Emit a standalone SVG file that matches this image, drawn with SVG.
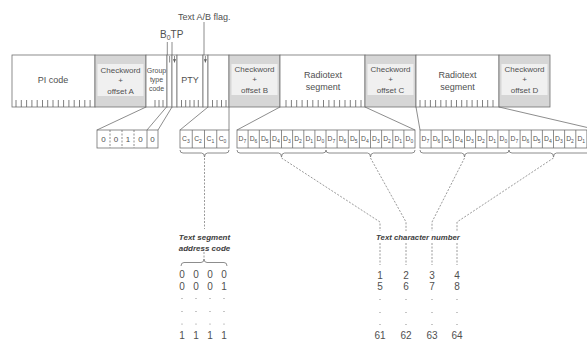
<svg xmlns="http://www.w3.org/2000/svg" width="587" height="342" viewBox="0 0 587 342">
<defs>
<style>
.bx{fill:#ffffff;stroke:#707070;stroke-width:0.8}
.cw{fill:#d6d6d6;stroke:#707070;stroke-width:0.8}
.cwi{fill:#f0f0f0;stroke:none}
.ln{fill:none;stroke:#707070;stroke-width:0.8}
.tk{fill:none;stroke:#606060;stroke-width:0.8}
.ds{fill:none;stroke:#808080;stroke-width:0.8;stroke-dasharray:2 1.5}
.dot{fill:#808080}
.t{font-family:"Liberation Sans",Arial,sans-serif;fill:#505050}
.c{text-anchor:middle}
.bi{font-weight:bold;font-style:italic;fill:#404040}
.s9{font-size:9px}
.s8{font-size:8px}
.s7{font-size:7px}
.d{font-size:6.8px}
.n{font-size:10px}
</style>
<marker id="ah" viewBox="0 0 6 6" refX="6" refY="3" markerWidth="4" markerHeight="4" orient="auto"><path d="M0,0 L6,3 L0,6 z" fill="#606060"/></marker>
</defs>
<rect width="587" height="342" fill="#ffffff"/>

<g id="pi-code">
<rect class="bx" x="12" y="55" width="83" height="52"/>
<path class="tk" d="M16,100V107M21.3,100V107M26.6,100V107M31.9,100V107M37.2,100V107M42.5,100V107M47.7,100V107M53,100V107M58.3,100V107M63.6,100V107M68.9,100V107M74.2,100V107M79.5,100V107M84.8,100V107M90.1,100V107"/>
<text class="t s9 c" x="53" y="83">PI code</text>
</g>

<g id="checkword-a">
<rect class="cw" x="95" y="55" width="51" height="52"/>
<rect class="cwi" x="97.5" y="64" width="46" height="32"/>
<text class="t s8 c" x="120.5" y="73">Checkword</text>
<text class="t s8 c" x="120.5" y="83">+</text>
<text class="t s8 c" x="120.5" y="93.5">offset A</text>
</g>

<g id="group-type-code">
<rect class="bx" x="146" y="55" width="21" height="52"/>
<path class="tk" d="M155,100V107M159,100V107M163,100V107"/>
<text class="t s7 c" x="156.5" y="73">Group</text>
<text class="t s7 c" x="156.5" y="82">type</text>
<text class="t s7 c" x="156.5" y="91">code</text>
</g>

<g id="b0-tp">
<rect class="bx" x="167" y="55" width="5" height="52"/>
<rect class="bx" x="172" y="55" width="5" height="52"/>
<path class="ln" d="M167.3,42V55M172,42V55"/>
<path class="ln" d="M169.6,56V62.5M174.5,56V62.5" marker-end="url(#ah)"/>
<text class="t" x="160" y="38" font-size="10px">B<tspan font-size="7px" dy="2">0</tspan><tspan dy="-2">TP</tspan></text>
</g>

<g id="pty">
<rect class="bx" x="177" y="55" width="26" height="52"/>
<path class="tk" d="M181.5,100V107M185.7,100V107M189.9,100V107M194.1,100V107M198.3,100V107"/>
<text class="t s9 c" x="190" y="83">PTY</text>
</g>

<g id="text-ab-flag">
<rect class="bx" x="203" y="55" width="5" height="52"/>
<path class="ln" d="M204,22V55"/>
<path class="ln" d="M205.4,56V62.5" marker-end="url(#ah)"/>
<text class="t s9" x="178" y="20">Text A/B flag.</text>
</g>

<g id="segment-address">
<rect class="bx" x="208" y="55" width="21" height="52"/>
<path class="tk" d="M212.5,100V107M217,100V107M221.5,100V107M226,100V107"/>
</g>

<g id="checkword-b">
<rect class="cw" x="229" y="55" width="51" height="52"/>
<rect class="cwi" x="231.5" y="64" width="46" height="31"/>
<text class="t s8 c" x="254.5" y="72">Checkword</text>
<text class="t s8 c" x="254.5" y="82">+</text>
<text class="t s8 c" x="254.5" y="92.5">offset B</text>
</g>

<g id="radiotext-1">
<rect class="bx" x="280" y="55" width="85" height="52"/>
<path class="tk" d="M286,100V107M291.4,100V107M296.7,100V107M302.1,100V107M307.4,100V107M312.8,100V107M318.2,100V107M323.5,100V107M328.9,100V107M334.2,100V107M339.6,100V107M345,100V107M350.3,100V107M355.7,100V107M361,100V107"/>
<text class="t s9 c" x="323" y="78">Radiotext</text>
<text class="t s9 c" x="323" y="90">segment</text>
</g>

<g id="checkword-c">
<rect class="cw" x="365" y="55" width="51" height="52"/>
<rect class="cwi" x="367.5" y="64" width="46" height="31"/>
<text class="t s8 c" x="390.5" y="72">Checkword</text>
<text class="t s8 c" x="390.5" y="82">+</text>
<text class="t s8 c" x="390.5" y="92.5">offset C</text>
</g>

<g id="radiotext-2">
<rect class="bx" x="416" y="55" width="83" height="52"/>
<path class="tk" d="M420,100V107M425.2,100V107M430.4,100V107M435.6,100V107M440.8,100V107M446.1,100V107M451.3,100V107M456.5,100V107M461.7,100V107M466.9,100V107M472.1,100V107M477.3,100V107M482.5,100V107M487.7,100V107M493,100V107"/>
<text class="t s9 c" x="457.5" y="78">Radiotext</text>
<text class="t s9 c" x="457.5" y="90">segment</text>
</g>

<g id="checkword-d">
<rect class="cw" x="499" y="55" width="51" height="52"/>
<rect class="cwi" x="501.5" y="64" width="46" height="31"/>
<text class="t s8 c" x="524.5" y="72">Checkword</text>
<text class="t s8 c" x="524.5" y="82">+</text>
<text class="t s8 c" x="524.5" y="92.5">offset D</text>
</g>

<g id="group-type-bits">
<rect class="bx" x="97" y="130" width="61" height="18"/>
<path class="ln" d="M110,130V148M122,130V148M134,130V148" stroke-dasharray="2 1.5"/>
<path class="ln" d="M147,130V148"/>
<text class="t s8 c" x="103.5" y="142">0</text>
<text class="t s8 c" x="116" y="142">0</text>
<text class="t s8 c" x="128" y="142">1</text>
<text class="t s8 c" x="140.5" y="142">0</text>
<text class="t s8 c" x="152.5" y="142">0</text>
</g>

<g id="address-bits">
<rect class="bx" x="180" y="130" width="49" height="18"/>
<path class="ln" d="M192.25,130V148M204.5,130V148M216.75,130V148"/>
<text class="t d" x="182" y="141">C<tspan font-size="5px" dy="1.5">3</tspan></text>
<text class="t d" x="194.2" y="141">C<tspan font-size="5px" dy="1.5">2</tspan></text>
<text class="t d" x="206.5" y="141">C<tspan font-size="5px" dy="1.5">1</tspan></text>
<text class="t d" x="218.7" y="141">C<tspan font-size="5px" dy="1.5">0</tspan></text>
</g>

<g id="data-bits-1">
<rect class="bx" x="237" y="130" width="178" height="18"/>
<path class="ln" d="M248.1,130V148M259.3,130V148M270.4,130V148M281.5,130V148M292.6,130V148M303.8,130V148M314.9,130V148M326,130V148M337.1,130V148M348.3,130V148M359.4,130V148M370.5,130V148M381.6,130V148M392.8,130V148M403.9,130V148"/>
<g class="t d">
<text x="238.6" y="141">D<tspan font-size="5px" dy="1.5">7</tspan></text>
<text x="249.7" y="141">D<tspan font-size="5px" dy="1.5">6</tspan></text>
<text x="260.9" y="141">D<tspan font-size="5px" dy="1.5">5</tspan></text>
<text x="272" y="141">D<tspan font-size="5px" dy="1.5">4</tspan></text>
<text x="283.1" y="141">D<tspan font-size="5px" dy="1.5">3</tspan></text>
<text x="294.2" y="141">D<tspan font-size="5px" dy="1.5">2</tspan></text>
<text x="305.4" y="141">D<tspan font-size="5px" dy="1.5">1</tspan></text>
<text x="316.5" y="141">D<tspan font-size="5px" dy="1.5">0</tspan></text>
<text x="327.6" y="141">D<tspan font-size="5px" dy="1.5">7</tspan></text>
<text x="338.7" y="141">D<tspan font-size="5px" dy="1.5">6</tspan></text>
<text x="349.9" y="141">D<tspan font-size="5px" dy="1.5">5</tspan></text>
<text x="361" y="141">D<tspan font-size="5px" dy="1.5">4</tspan></text>
<text x="372.1" y="141">D<tspan font-size="5px" dy="1.5">3</tspan></text>
<text x="383.2" y="141">D<tspan font-size="5px" dy="1.5">2</tspan></text>
<text x="394.4" y="141">D<tspan font-size="5px" dy="1.5">1</tspan></text>
<text x="405.5" y="141">D<tspan font-size="5px" dy="1.5">0</tspan></text>
</g>
</g>

<g id="data-bits-2">
<rect class="bx" x="420" y="130" width="178" height="18"/>
<path class="ln" d="M431.1,130V148M442.3,130V148M453.4,130V148M464.5,130V148M475.6,130V148M486.8,130V148M497.9,130V148M509,130V148M520.1,130V148M531.3,130V148M542.4,130V148M553.5,130V148M564.6,130V148M575.8,130V148M586.9,130V148"/>
<g class="t d">
<text x="421.6" y="141">D<tspan font-size="5px" dy="1.5">7</tspan></text>
<text x="432.7" y="141">D<tspan font-size="5px" dy="1.5">6</tspan></text>
<text x="443.9" y="141">D<tspan font-size="5px" dy="1.5">5</tspan></text>
<text x="455" y="141">D<tspan font-size="5px" dy="1.5">4</tspan></text>
<text x="466.1" y="141">D<tspan font-size="5px" dy="1.5">3</tspan></text>
<text x="477.2" y="141">D<tspan font-size="5px" dy="1.5">2</tspan></text>
<text x="488.4" y="141">D<tspan font-size="5px" dy="1.5">1</tspan></text>
<text x="499.5" y="141">D<tspan font-size="5px" dy="1.5">0</tspan></text>
<text x="510.6" y="141">D<tspan font-size="5px" dy="1.5">7</tspan></text>
<text x="521.7" y="141">D<tspan font-size="5px" dy="1.5">6</tspan></text>
<text x="532.9" y="141">D<tspan font-size="5px" dy="1.5">5</tspan></text>
<text x="544" y="141">D<tspan font-size="5px" dy="1.5">4</tspan></text>
<text x="555.1" y="141">D<tspan font-size="5px" dy="1.5">3</tspan></text>
<text x="566.2" y="141">D<tspan font-size="5px" dy="1.5">2</tspan></text>
<text x="577.4" y="141">D<tspan font-size="5px" dy="1.5">1</tspan></text>
</g>
</g>

<g id="address-code-table">
<text class="t s8 c bi" x="204.5" y="240">Text segment</text>
<text class="t s8 c bi" x="204.5" y="250.5">address code</text>
<g class="t n c">
<text x="182" y="278">0</text><text x="196" y="278">0</text><text x="210" y="278">0</text><text x="224" y="278">0</text>
<text x="182" y="289.8">0</text><text x="196" y="289.8">0</text><text x="210" y="289.8">0</text><text x="224" y="289.8">1</text>
<text x="182" y="339">1</text><text x="196" y="339">1</text><text x="210" y="339">1</text><text x="224" y="339">1</text>
</g>
<g class="dot">
<circle cx="182" cy="298.5" r="0.6"/><circle cx="196" cy="298.5" r="0.6"/><circle cx="210" cy="298.5" r="0.6"/><circle cx="224" cy="298.5" r="0.6"/>
<circle cx="182" cy="311.5" r="0.6"/><circle cx="196" cy="311.5" r="0.6"/><circle cx="210" cy="311.5" r="0.6"/><circle cx="224" cy="311.5" r="0.6"/>
<circle cx="182" cy="324" r="0.6"/><circle cx="196" cy="324" r="0.6"/><circle cx="210" cy="324" r="0.6"/><circle cx="224" cy="324" r="0.6"/>
</g>
</g>

<g id="character-number-table">
<text class="t c bi" x="418" y="239.5" font-size="7.8px">Text character number</text>
<g class="t n c">
<text x="380" y="278.5">1</text><text x="406" y="278.5">2</text><text x="432" y="278.5">3</text><text x="457" y="278.5">4</text>
<text x="380" y="290.3">5</text><text x="406" y="290.3">6</text><text x="432" y="290.3">7</text><text x="457" y="290.3">8</text>
<text x="380" y="338.5">61</text><text x="406" y="338.5">62</text><text x="432" y="338.5">63</text><text x="457" y="338.5">64</text>
</g>
<g class="dot">
<circle cx="380" cy="299.5" r="0.6"/><circle cx="406" cy="299.5" r="0.6"/><circle cx="432" cy="299.5" r="0.6"/><circle cx="457" cy="299.5" r="0.6"/>
<circle cx="380" cy="312.5" r="0.6"/><circle cx="406" cy="312.5" r="0.6"/><circle cx="432" cy="312.5" r="0.6"/><circle cx="457" cy="312.5" r="0.6"/>
<circle cx="380" cy="324.5" r="0.6"/><circle cx="406" cy="324.5" r="0.6"/><circle cx="432" cy="324.5" r="0.6"/><circle cx="457" cy="324.5" r="0.6"/>
</g>
</g>

<g id="connectors">
<path class="ln" d="M146,107L97,130M166.5,107L147,130M172,107L158,130"/>
<path class="ln" d="M208,107L180,130M229,107V130"/>
<path class="ln" d="M280,107L237,130M365,107L415,130"/>
<path class="ln" d="M416,107L420,130M499,107L598,130"/>
<path class="ln" d="M180,150Q180,153 183,153L201.5,153Q204.5,153 204.5,157Q204.5,153 207.5,153L226,153Q229,153 229,150"/>
<path class="ln" d="M237,150Q237,153 240,153L278.5,153Q281.5,153 281.5,157Q281.5,153 284.5,153L323,153Q326,153 326,150"/>
<path class="ln" d="M326,150Q326,153 329,153L367.5,153Q370.5,153 370.5,157Q370.5,153 373.5,153L412,153Q415,153 415,150"/>
<path class="ln" d="M420,150Q420,153 423,153L461.5,153Q464.5,153 464.5,157Q464.5,153 467.5,153L506,153Q509,153 509,150"/>
<path class="ln" d="M509,150Q509,153 512,153L550.5,153Q553.5,153 553.5,157Q553.5,153 556.5,153L595,153Q598,153 598,150"/>
<path class="ln" d="M181,266Q181,262.5 184,262.5L201,262.5Q204,262.5 204,259Q204,262.5 207,262.5L224,262.5Q227,262.5 227,266"/>
<path class="ds" d="M204.5,158V229M204,252V259"/>
<path class="ds" d="M281.5,158L380,222V231M370.5,158L406,222V231M464.5,158L432,222V231M553.5,158L457,222V231"/>
<path class="ds" d="M380,243V265M406,243V265M432,243V265M457,243V265"/>
</g>
</svg>
